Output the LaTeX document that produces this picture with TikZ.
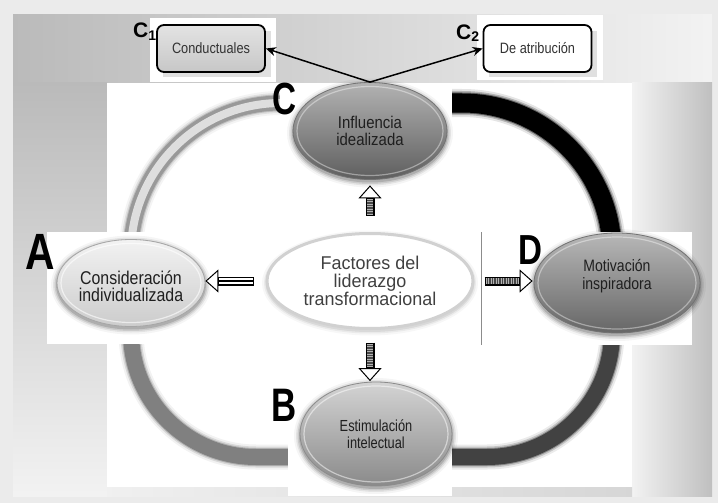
\documentclass[tikz,border=0pt]{standalone}
\usepackage{fontspec}
\setmainfont{Liberation Sans}
\usetikzlibrary{shapes.geometric,arrows.meta}

% horizontally condensed text
\newcommand{\sqz}[2]{\scalebox{#1}[1]{#2}}
% stroke with a soft, fuzzy edge: colour, core width, corner radius, path
\newcommand{\softstroke}[4]{%
  \draw[#1, line width=#2+9pt, opacity=0.10, rounded corners=#3] #4;
  \draw[#1, line width=#2+5pt, opacity=0.22, rounded corners=#3] #4;
  \draw[#1, line width=#2+2pt, opacity=0.45, rounded corners=#3] #4;
  \draw[#1, line width=#2, rounded corners=#3] #4;}
% soft shadow round an ellipse: x, y, x radius, y radius
\newcommand{\ballhalo}[4]{%
  \foreach \dk/\dop in {6/0.04,4/0.07,2.5/0.10,1/0.14}
    \fill[black, opacity=\dop] (#1,#2+2) ellipse [x radius=#3+\dk, y radius=#4+\dk];}

\tikzset{
  ball/.style={ellipse, inner sep=0pt, draw=black!55, line width=0.8pt},
  txt/.style={align=center, inner sep=0pt, text=black!88},
  lbl/.style={inner sep=0pt, text=black},
  tag/.style={rectangle, rounded corners=7pt, draw=black, line width=1.8pt,
    minimum width=108pt, minimum height=47pt, inner sep=0pt, text=black!80,
    font=\fontsize{15}{15}\selectfont},
  pointer/.style={draw=black, line width=1.5pt, -{Stealth[length=10pt, width=9pt]}},
  blockarrow/.style={draw=black, line width=9pt,
    -{Triangle[length=13pt, width=23pt, line width=1pt, fill=white]}},
  shaftdark/.style={draw=black!72, line width=6.5pt},
  shaftstripe/.style={draw=black!30, line width=6.5pt, dash pattern=on 0.8pt off 1.7pt},
  shaftwhite/.style={draw=white, line width=6.5pt},
  shaftcore/.style={draw=black, line width=1.6pt},
}

\begin{document}
\begin{tikzpicture}[x=1pt,y=-1pt]
\useasboundingbox (0,0) rectangle (718,503);

% backdrop
\fill[black!8] (0,0) rectangle (718,503);
\shade[left color=black!27, right color=black!5] (13,15) rectangle (712,83);
\shade[top color=black!27, bottom color=black!5] (13,83) rectangle (107,496);
\shade[left color=black!5, right color=black!25] (632,83) rectangle (712,496);
\shade[left color=black!6, right color=black!16] (107,487) rectangle (632,496);
\fill[white] (107,83) rectangle (632,487);

% the ring joining the four factors
\softstroke{black!40}{15pt}{150pt}{(131,285) -- (131,103) -- (376,103)}
\draw[black!13, line width=8pt, rounded corners=150pt] (131,285) -- (131,103) -- (376,103);
\softstroke{black}{19pt}{150pt}{(366,103) -- (612,103) -- (612,285)}
\softstroke{black!74}{16pt}{125pt}{(612,275) -- (612,457) -- (366,457)}
\softstroke{black!50}{16pt}{125pt}{(376,457) -- (131,457) -- (131,275)}

% white panels behind the nodes
\fill[white] (280,83) rectangle (452,188);
\fill[white] (47,232) rectangle (257,344);
\fill[white] (481,232) rectangle (692,345);
\draw[black!45, line width=0.8pt] (481,232) -- (481,345);
\fill[white] (288,380) rectangle (452,496);
\fill[white] (150,18) rectangle (276,82);
\fill[white] (477,15) rectangle (603,80);

% centre
\foreach \dk/\dop in {5/0.03,3/0.05,1.5/0.07}
  \fill[black, opacity=\dop] (370,283) ellipse [x radius=103+\dk, y radius=47.5+\dk];
\node[ellipse, inner sep=0pt, minimum width=206pt, minimum height=95pt,
      fill=white, draw=black!18, line width=3pt] (F) at (370,281) {};
\node[txt, text=black!75, font=\fontsize{18.5}{18}\selectfont] (Ft) at (F)
  {\sqz{0.97}{Factores del}\\\sqz{0.97}{liderazgo}\\\sqz{0.97}{transformacional}};

% C: idealised influence
\ballhalo{370}{131}{77}{48.5}
\node[ball, minimum width=154pt, minimum height=97pt, top color=black!30, bottom color=black!63] (C) at (370,131) {};
\draw[white, opacity=0.4, line width=1.2pt] (C) ellipse [x radius=73, y radius=44.5];
\node[txt, font=\fontsize{17}{17}\selectfont] (Ct) at (C) {\sqz{0.88}{Influencia}\\\sqz{0.88}{idealizada}};
\node[lbl, font=\bfseries\fontsize{45}{45}\selectfont] (lC) at (285,99) {\sqz{0.74}{C}};

% A: individualised consideration
\ballhalo{131}{283}{74}{43.5}
\node[ball, draw=black!35, minimum width=148pt, minimum height=87pt, top color=black!5, bottom color=black!20] (A) at (131,283) {};
\draw[white, opacity=0.6, line width=1.2pt] (A) ellipse [x radius=70, y radius=39.5];
\node[txt, font=\fontsize{18.5}{17}\selectfont] (At) at ([yshift=-3pt]A.center)
  {\sqz{0.86}{Consideración}\\\sqz{0.86}{individualizada}};
\node[lbl, font=\bfseries\fontsize{51}{51}\selectfont] (lA) at (40,252) {\sqz{0.8}{A}};

% D: inspirational motivation
\ballhalo{617}{283}{83}{50}
\node[ball, minimum width=166pt, minimum height=100pt, top color=black!28, bottom color=black!60] (D) at (617,283) {};
\draw[white, opacity=0.4, line width=1.2pt] (D) ellipse [x radius=79, y radius=46];
\node[txt, font=\fontsize{16.5}{17.5}\selectfont] (Dt) at ([yshift=7pt]D.center)
  {\sqz{0.85}{Motivación}\\\sqz{0.85}{inspiradora}};
\node[lbl, font=\bfseries\fontsize{42}{42}\selectfont] (lD) at (530,250) {\sqz{0.79}{D}};

% B: intellectual stimulation
\ballhalo{376}{434}{76}{52}
\node[ball, draw=black!45, minimum width=152pt, minimum height=104pt, top color=black!17, bottom color=black!46] (B) at (376,434) {};
\draw[white, opacity=0.5, line width=1.2pt] (B) ellipse [x radius=72, y radius=48];
\node[txt, font=\fontsize{16}{17}\selectfont] (Bt) at (B) {\sqz{0.8}{Estimulación}\\\sqz{0.8}{intelectual}};
\node[lbl, font=\bfseries\fontsize{47}{47}\selectfont] (lB) at (284.5,405) {\sqz{0.74}{B}};

% block arrows from the centre to each factor
\draw[blockarrow, shorten <=16.5pt, shorten >=5.5pt] (F.north) -- (F.north |- C.south);
\draw[shaftdark, shorten <=17.5pt, shorten >=19.5pt] (F.north) -- (F.north |- C.south);
\draw[shaftstripe, shorten <=17.5pt, shorten >=19.5pt] (F.north) -- (F.north |- C.south);

\draw[blockarrow, shorten <=12.5pt, shorten >=0.5pt] (F.south) -- (F.south |- B.north);
\draw[shaftdark, shorten <=13.5pt, shorten >=14.5pt] (F.south) -- (F.south |- B.north);
\draw[shaftstripe, shorten <=13.5pt, shorten >=14.5pt] (F.south) -- (F.south |- B.north);

\draw[blockarrow, shorten <=10pt, shorten >=1pt] (F.east) -- (F.east -| D.west);
\draw[shaftdark, shorten <=11pt, shorten >=15pt] (F.east) -- (F.east -| D.west);
\draw[shaftstripe, shorten <=11pt, shorten >=15pt] (F.east) -- (F.east -| D.west);

\draw[blockarrow, shorten <=12pt, shorten >=0pt] (F.west) -- (F.west -| A.east);
\draw[shaftwhite, shorten <=13pt, shorten >=14pt] (F.west) -- (F.west -| A.east);
\draw[shaftcore, shorten <=13pt, shorten >=14pt] (F.west) -- (F.west -| A.east);

% the two kinds of idealised influence
\fill[black, opacity=0.12] (163,31) rectangle (271,77);
\fill[black, opacity=0.12] (489,31) rectangle (597,77);
\node[tag, top color=black!11, bottom color=black!22] (C1) at (211,48.5) {\sqz{0.85}{Conductuales}};
\node[tag, fill=white] (C2) at (537.5,48.5) {\sqz{0.85}{De atribución}};
\node[lbl, anchor=base west, font=\bfseries\fontsize{21}{21}\selectfont] (lC1) at (133,38)
  {C\raisebox{-2pt}{\fontsize{14}{14}\selectfont 1}};
\node[lbl, anchor=base west, font=\bfseries\fontsize{21}{21}\selectfont] (lC2) at (456,40)
  {C\raisebox{-2pt}{\fontsize{14}{14}\selectfont 2}};
\draw[pointer] (C.north) -- (C1.east);
\draw[pointer] (C.north) -- (C2.west);
\end{tikzpicture}
\end{document}
